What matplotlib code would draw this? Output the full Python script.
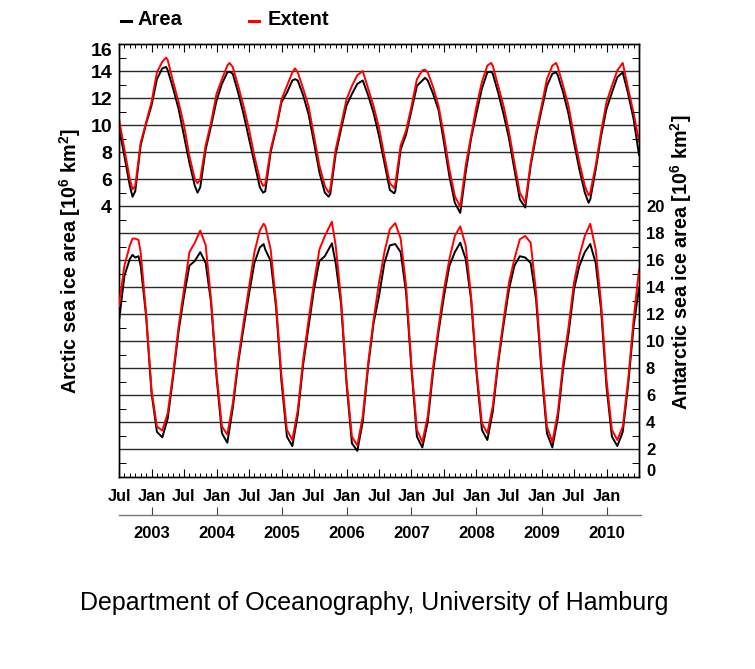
import matplotlib
matplotlib.use('Agg')
import matplotlib.pyplot as plt
from matplotlib.ticker import FixedLocator, FixedFormatter
from matplotlib.transforms import ScaledTranslation
from matplotlib.lines import Line2D

plt.rcParams['font.family'] = ['Liberation Sans', 'DejaVu Sans']
plt.rcParams['mathtext.fontset'] = 'custom'
plt.rcParams['mathtext.rm'] = 'Liberation Sans:bold'
plt.rcParams['mathtext.bf'] = 'Liberation Sans:bold'
plt.rcParams['mathtext.default'] = 'bf'

# ---- data (x = months since 1 Jul 2002) ----
arctic_t = [0, 1, 2, 2.5, 3, 4, 5, 6, 7, 8, 8.7, 9, 10, 11,
            12, 13, 14, 14.5, 15, 16, 17, 18, 19, 20, 20.4, 21, 22, 23,
            24, 25, 26, 26.6, 27, 28, 29, 30, 31, 32, 32.5, 33, 34, 35,
            36, 37, 38, 38.7, 39, 40, 41, 42, 43, 44, 45, 46, 47,
            48, 49, 50, 50.8, 51, 52, 53, 54, 55, 56, 56.5, 57, 58, 59,
            60, 61, 62, 63, 64, 65, 66, 67, 68, 68.7, 69, 70, 71,
            72, 73, 74, 75, 76, 77, 78, 79, 80, 80.7, 81, 82, 83,
            84, 85, 86, 86.7, 87, 88, 89, 90, 91, 92, 93, 94, 95, 96]
arctic_extent = [10.45, 8.2, 6.0, 5.25, 5.5, 8.7, 10.2, 11.7, 13.9, 14.7, 15.0, 14.8, 13.2, 11.7,
                 10.0, 7.7, 6.0, 5.7, 6.0, 8.5, 10.2, 12.3, 13.4, 14.4, 14.6, 14.3, 12.9, 11.4,
                 9.7, 7.7, 6.0, 5.5, 5.6, 8.2, 9.8, 11.9, 12.9, 13.9, 14.2, 13.9, 12.7, 11.4,
                 9.2, 7.0, 5.5, 5.0, 5.25, 8.2, 10.0, 11.9, 12.9, 13.7, 14.0, 12.7, 11.4,
                 9.8, 7.7, 5.7, 5.35, 5.6, 8.5, 9.6, 11.4, 13.4, 14.05, 14.1, 13.9, 12.8, 11.4,
                 9.2, 6.7, 4.75, 3.95, 7.0, 9.2, 11.4, 13.2, 14.4, 14.6, 14.4, 12.9, 11.4,
                 9.5, 7.2, 5.0, 4.25, 7.2, 9.5, 11.4, 13.4, 14.4, 14.6, 14.3, 12.9, 11.4,
                 9.2, 7.2, 5.5, 4.8, 5.0, 7.0, 9.5, 11.7, 12.9, 14.05, 14.6, 12.7, 10.9, 8.8]
arctic_area = [9.8, 7.7, 5.5, 4.7, 5.1, 8.5, 10.1, 11.45, 13.4, 14.2, 14.3, 14.05, 12.7, 11.2,
               9.2, 7.2, 5.5, 5.0, 5.4, 8.2, 9.95, 11.8, 13.05, 13.9, 13.95, 13.8, 12.4, 10.8,
               9.0, 7.2, 5.4, 5.0, 5.1, 8.0, 9.7, 11.7, 12.4, 13.3, 13.4, 13.3, 12.2, 10.8,
               8.7, 6.5, 5.0, 4.7, 4.9, 7.85, 9.7, 11.45, 12.3, 13.05, 13.3, 12.2, 10.9,
               9.2, 7.2, 5.2, 4.95, 5.1, 8.2, 9.3, 11.1, 12.9, 13.3, 13.5, 13.3, 12.3, 11.1,
               8.7, 6.2, 4.25, 3.5, 6.5, 9.0, 10.9, 12.7, 13.9, 13.95, 13.8, 12.4, 10.8,
               9.0, 6.7, 4.5, 3.9, 7.0, 9.2, 11.1, 12.9, 13.8, 13.9, 13.7, 12.4, 10.8,
               8.7, 6.7, 5.0, 4.25, 4.5, 6.7, 9.2, 11.2, 12.4, 13.55, 13.9, 12.3, 10.45, 7.8]

antarctic_t = [0, 1, 2, 2.5, 3, 3.6, 4, 5, 6, 7, 8, 9, 10, 11,
               12, 13, 14, 15, 16, 17, 18, 19, 20, 21, 22, 23,
               24, 25, 26, 26.7, 27, 28, 29, 30, 31, 32, 33, 34, 35,
               36, 37, 38, 39.3, 40, 41, 42, 43, 44, 45, 46, 47,
               48, 49, 50, 51, 52, 53, 54, 55, 56, 57, 58, 59,
               60, 61, 62, 63, 64, 65, 66, 67, 68, 69, 70, 71,
               72, 73, 74, 75, 76, 77, 78, 79, 80, 81, 82, 83,
               84, 85, 86, 87, 88, 89, 90, 91, 92, 93, 94, 95, 96]
antarctic_extent = [12.6, 15.6, 17.1, 17.6, 17.6, 17.5, 16.6, 12.1, 6.4, 3.7, 3.4, 4.7, 7.65, 11.1,
                    13.85, 16.6, 17.3, 18.2, 17.1, 13.1, 7.65, 3.7, 3.1, 5.4, 8.65, 11.4,
                    14.0, 16.6, 18.2, 18.7, 18.55, 16.8, 12.85, 7.4, 3.45, 2.7, 4.9, 8.65, 11.6,
                    14.35, 16.8, 17.8, 18.85, 17.1, 13.1, 7.15, 2.95, 2.3, 4.45, 8.4, 11.6,
                    14.35, 16.6, 18.3, 18.75, 17.6, 14.1, 8.15, 3.45, 2.55, 4.45, 8.15, 11.1,
                    13.85, 16.1, 17.8, 18.5, 17.1, 13.35, 7.9, 3.95, 3.2, 5.2, 8.65, 11.6,
                    14.35, 16.1, 17.55, 17.8, 17.3, 13.6, 8.15, 3.7, 2.55, 4.7, 8.4, 11.1,
                    14.35, 16.35, 17.8, 18.7, 16.8, 12.85, 7.15, 3.45, 2.7, 3.7, 7.15, 11.6, 15.3]
antarctic_area = [11.5, 14.85, 16.1, 16.4, 16.2, 16.3, 15.6, 11.9, 6.2, 3.3, 2.9, 4.3, 7.4, 10.75,
                  13.35, 15.6, 15.95, 16.6, 15.8, 12.85, 7.4, 3.2, 2.5, 5.05, 8.4, 11.0,
                  13.5, 15.8, 16.95, 17.2, 16.8, 15.95, 12.5, 7.0, 2.95, 2.25, 4.55, 8.3, 11.1,
                  13.85, 15.95, 16.3, 17.25, 15.8, 12.75, 6.9, 2.45, 1.9, 4.05, 8.15, 11.35,
                  13.35, 15.8, 17.1, 17.2, 16.6, 13.6, 7.9, 2.95, 2.15, 4.05, 7.8, 10.75,
                  13.35, 15.6, 16.6, 17.3, 16.1, 13.1, 7.65, 3.45, 2.7, 4.8, 8.4, 11.25,
                  13.85, 15.6, 16.3, 16.2, 15.8, 13.1, 7.8, 3.2, 2.15, 4.3, 8.0, 10.6,
                  13.85, 15.6, 16.6, 17.2, 15.8, 12.35, 6.65, 2.95, 2.25, 3.3, 6.8, 11.1, 13.95]

month_ticks = list(range(0, 97, 6))
month_labels = ['Jul', 'Jan'] * 8 + ['']
year_ticks = list(range(6, 91, 12))
year_labels = ['2003', '2004', '2005', '2006', '2007', '2008', '2009', '2010']
arctic_labels = [4, 6, 8, 10, 12, 14, 16]
antarctic_labels = [0, 2, 4, 6, 8, 10, 12, 14, 16, 18, 20]

# ---- figure ----
W, H = 755, 669
fig = plt.figure(figsize=(W / 100, H / 100), dpi=100)
L, R, T, B = 119, 639, 44, 476.5
ax = fig.add_axes([L / W, 1 - B / H, (R - L) / W, (B - T) / H])
ax2 = ax.twinx()

ax.set_xlim(0, 96)
ax.set_ylim(-16, 16)
ax2.set_ylim(0, 32)

# grid lines
for v in range(-14, 16, 2):
    ax.axhline(v, color='#2a2a2a', lw=1.0, zorder=1)

ax.plot(arctic_t, arctic_area, color='black', lw=1.4, zorder=3)
ax.plot(arctic_t, arctic_extent, color='#ff0000', lw=1.4, zorder=4)
ax2.plot(antarctic_t, antarctic_area, color='black', lw=1.4, zorder=3)
ax2.plot(antarctic_t, antarctic_extent, color='#ff0000', lw=1.4, zorder=4)

for s in ax.spines.values():
    s.set_linewidth(1.0)
for s in ax2.spines.values():
    s.set_linewidth(1.0)

# x ticks
ax.xaxis.set_major_locator(FixedLocator(month_ticks))
ax.xaxis.set_major_formatter(FixedFormatter(month_labels))
ax.xaxis.set_minor_locator(FixedLocator(list(range(0, 97))))
ax.tick_params(axis='x', which='major', direction='in', length=6, width=0.8,
               top=True, bottom=True, labelsize=11.7, pad=9)
ax.tick_params(axis='x', which='minor', direction='in', length=3, width=0.7,
               top=True, bottom=True)
for lab in ax.get_xticklabels():
    lab.set_fontweight('bold')

# left y ticks (Arctic)
ax.yaxis.set_major_locator(FixedLocator(arctic_labels))
ax.yaxis.set_major_formatter(FixedFormatter([str(v) for v in arctic_labels]))
ax.yaxis.set_minor_locator(FixedLocator([v for v in range(-15, 16, 2)]))
ax.tick_params(axis='y', which='major', direction='in', length=0, labelsize=14, pad=5)
ax.tick_params(axis='y', which='minor', direction='in', length=5, width=0.7)
for lab in ax.get_yticklabels():
    lab.set_fontweight('bold')
    if lab.get_text() == '16':
        lab.set_transform(lab.get_transform() + ScaledTranslation(0, -0.05, fig.dpi_scale_trans))

# right y ticks (Antarctic)
ax2.yaxis.set_major_locator(FixedLocator(antarctic_labels))
ax2.yaxis.set_major_formatter(FixedFormatter([str(v) for v in antarctic_labels]))
ax2.yaxis.set_minor_locator(FixedLocator([v for v in range(1, 32, 2)]))
ax2.tick_params(axis='y', which='major', direction='in', length=0, labelsize=12, pad=5)
ax2.tick_params(axis='y', which='minor', direction='in', length=5, width=0.7)
for lab in ax2.get_yticklabels():
    lab.set_fontweight('bold')
    if lab.get_text() == '0':
        lab.set_transform(lab.get_transform() + ScaledTranslation(0, 0.065, fig.dpi_scale_trans))

# axis titles
fig.text(70 / W, 1 - 261 / H, 'Arctic sea ice area [10$^{6}$ km$^{2}$]', rotation=90,
         ha='center', va='center', fontsize=14.2, fontweight='bold')
fig.text(681 / W, 1 - 262 / H, 'Antarctic sea ice area [10$^{6}$ km$^{2}$]', rotation=90,
         ha='center', va='center', fontsize=14.2, fontweight='bold')

# year axis
yax = fig.add_axes([L / W, 1 - 515 / H, (R + 2 - L) / W, 0.0001])
yax.set_xlim(0, 96 * (R + 2 - L) / (R - L))
for k in ('left', 'right', 'top'):
    yax.spines[k].set_visible(False)
yax.spines['bottom'].set_color('#777777')
yax.spines['bottom'].set_linewidth(1.0)
yax.set_yticks([])
yax.patch.set_visible(False)
yax.xaxis.set_major_locator(FixedLocator(year_ticks))
yax.xaxis.set_major_formatter(FixedFormatter(year_labels))
yax.tick_params(axis='x', direction='in', length=6, width=0.8, color='#444444',
                labelsize=12, pad=8)
for lab in yax.get_xticklabels():
    lab.set_fontweight('bold')

# legend
fig.add_artist(Line2D([121 / W, 131 / W], [1 - 20.5 / H] * 2, color='black', lw=2.2))
fig.text(138 / W, 1 - 19.5 / H, 'Area', ha='left', va='center', fontsize=14.5, fontweight='bold')
fig.add_artist(Line2D([249 / W, 259 / W], [1 - 20.5 / H] * 2, color='#ff0000', lw=2.2))
fig.text(268 / W, 1 - 19.5 / H, 'Extent', ha='left', va='center', fontsize=14.5, fontweight='bold')

# footer
fig.text(374.5 / W, 1 - 603 / H, 'Department of Oceanography, University of Hamburg',
         ha='center', va='center', fontsize=18)

fig.savefig('out.png', dpi=100)
